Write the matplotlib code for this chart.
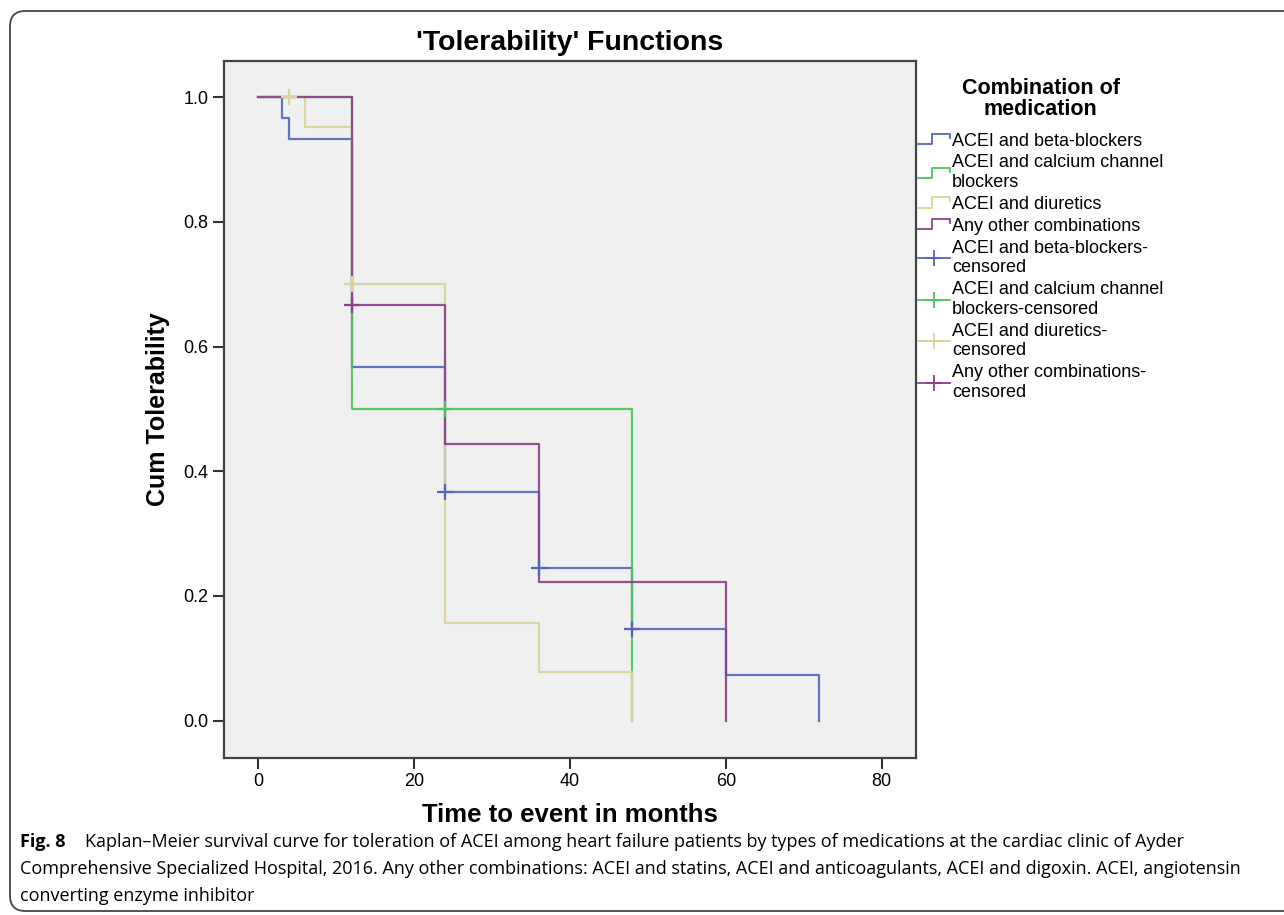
import matplotlib
matplotlib.use('Agg')
import matplotlib.pyplot as plt
from matplotlib.lines import Line2D
from matplotlib.legend_handler import HandlerBase
from matplotlib.patches import FancyBboxPatch
import numpy as np

# Kaplan-Meier step data (time in months, cum tolerability)
blue_t = [0, 3, 4, 12, 24, 36, 48, 60, 72]
blue_s = [1.0, 0.967, 0.933, 0.567, 0.367, 0.245, 0.147, 0.073, 0.0]
blue_ct = [24, 36, 48]
blue_cs = [0.367, 0.245, 0.147]

green_t = [0, 12, 48]
green_s = [1.0, 0.5, 0.0]
green_ct = [24]
green_cs = [0.5]

yellow_t = [0, 6, 12, 24, 36, 48]
yellow_s = [1.0, 0.952, 0.70, 0.156, 0.078, 0.0]
yellow_ct = [4, 12]
yellow_cs = [1.0, 0.70]

purple_t = [0, 12, 24, 36, 60]
purple_s = [1.0, 0.667, 0.444, 0.222, 0.0]
purple_ct = [12]
purple_cs = [0.667]

groups = ['ACEI and beta-blockers', 'ACEI and calcium channel\nblockers',
          'ACEI and diuretics', 'Any other combinations']
censored = ['ACEI and beta-blockers-\ncensored',
            'ACEI and calcium channel\nblockers-censored',
            'ACEI and diuretics-\ncensored',
            'Any other combinations-\ncensored']
colors = ['#5366bd', '#4cc45a', '#d9d49c', '#8a3f8b']

x_ticks = [0, 20, 40, 60, 80]
y_ticks = [0.0, 0.2, 0.4, 0.6, 0.8, 1.0]

ARIAL = ['Liberation Sans', 'DejaVu Sans']


class StepHandler(HandlerBase):
    '''Draws the little step symbol used in SPSS survival legends.'''
    def create_artists(self, legend, orig_handle, xdescent, ydescent,
                       width, height, fontsize, trans):
        xs = np.array([0, 0.45, 0.45, 1, 1]) * width - xdescent
        ys = np.array([0.1, 0.1, 0.9, 0.9, 0.6]) * height - ydescent
        line = Line2D(xs, ys, color=orig_handle.get_color(), lw=1.3,
                      transform=trans)
        return [line]


W, H = 1284, 915
fig = plt.figure(figsize=(W / 100, H / 100), dpi=100)
ax = fig.add_axes([224 / W, 1 - 758 / H, (916 - 224) / W, (758 - 61) / H])
ax.set_facecolor('#f0f0f0')

series = [(blue_t, blue_s, blue_ct, blue_cs),
          (green_t, green_s, green_ct, green_cs),
          (yellow_t, yellow_s, yellow_ct, yellow_cs),
          (purple_t, purple_s, purple_ct, purple_cs)]

step_handles = []
for (t, s, _, _), c in zip(series, colors):
    h, = ax.step(t, s, where='post', color=c, lw=1.6, alpha=0.9)
    step_handles.append(h)

cens_handles = []
for (_, _, ct, cs), c in zip(series, colors):
    ax.plot(ct, cs, ls='none', marker='+', ms=11, mew=1.6, color=c)
    cens_handles.append(Line2D([], [], color=c, lw=1.3, marker='+',
                               ms=12, mew=1.3))

ax.set_xlim(-4.4, 84.4)
ax.set_ylim(-0.06, 1.058)
ax.set_xticks(x_ticks)
ax.set_yticks(y_ticks)
ax.set_yticklabels([f'{v:.1f}' for v in y_ticks])
ax.tick_params(direction='out', length=8, width=1.5, color='#333333',
               labelsize=13, pad=3)
for sp in ax.spines.values():
    sp.set_color('#444444')
    sp.set_linewidth(1.6)
for lab in ax.get_xticklabels() + ax.get_yticklabels():
    lab.set_family(ARIAL)

ax.set_title("'Tolerability' Functions", fontsize=20.5, fontweight='bold',
             family=ARIAL, pad=8)
ax.set_xlabel('Time to event in months', fontsize=18.5, fontweight='bold',
              family=ARIAL, labelpad=9)
ax.set_ylabel('Cum Tolerability', fontsize=18, fontweight='bold',
              family=ARIAL, labelpad=10)

hmap = {h: StepHandler() for h in step_handles}
leg = fig.legend(step_handles + cens_handles, groups + censored,
                 loc='upper left', bbox_to_anchor=(918 / W, 1 - 78 / H),
                 frameon=False, handler_map=hmap, borderpad=0,
                 borderaxespad=0, handlelength=1.75, handletextpad=0.12,
                 labelspacing=0.27, title='Combination of\nmedication',
                 prop={'family': ARIAL, 'size': 13},
                 title_fontproperties={'family': ARIAL, 'size': 15.5,
                                       'weight': 'bold'})
leg._legend_box.sep = 9
leg.get_title().set_multialignment('center')
leg.get_title().set_linespacing(1.0)
for txt in leg.get_texts():
    txt.set_linespacing(1.2)

# outer rounded frame of the published figure
box = FancyBboxPatch((10 / W, 4 / H), 1290 / W, 900 / H,
                     boxstyle='round,pad=0,rounding_size=0.012',
                     mutation_aspect=W / H, transform=fig.transFigure,
                     fill=False, ec='#444444', lw=1.3)
fig.patches.append(box)

cap_font = ['Open Sans', 'DejaVu Sans']
fig.text(20 / W, 1 - 842 / H, 'Fig. 8', fontsize=13, fontweight='bold',
         family=cap_font, va='center')
fig.text(85 / W, 1 - 842 / H,
         'Kaplan\u2013Meier survival curve for toleration of ACEI among heart '
         'failure patients by types of medications at the cardiac clinic of Ayder',
         fontsize=13, family=cap_font, va='center')
fig.text(20 / W, 1 - 869 / H,
         'Comprehensive Specialized Hospital, 2016. Any other combinations: ACEI '
         'and statins, ACEI and anticoagulants, ACEI and digoxin. ACEI, angiotensin',
         fontsize=13, family=cap_font, va='center')
fig.text(20 / W, 1 - 896 / H, 'converting enzyme inhibitor',
         fontsize=13, family=cap_font, va='center')

fig.savefig('out.png', dpi=100)
